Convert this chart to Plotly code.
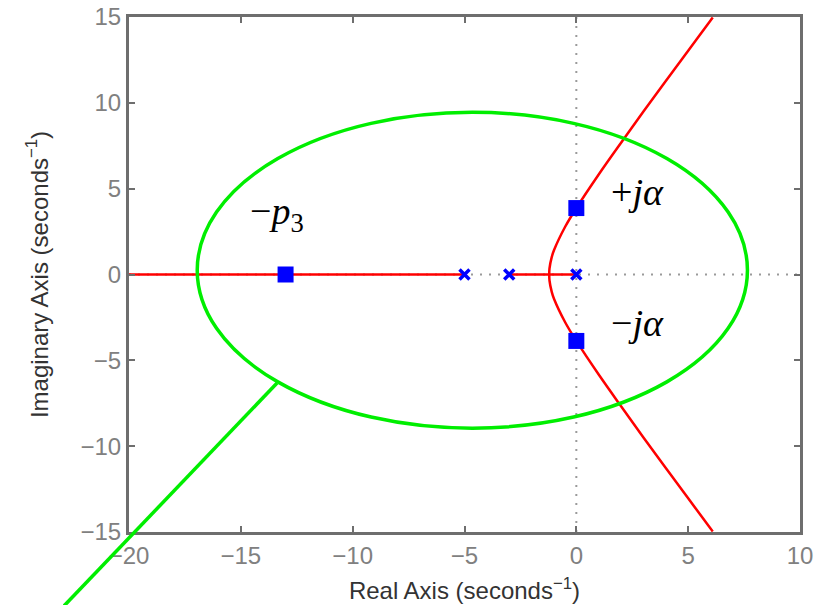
import plotly.graph_objects as go

# ---- data ----
x_range = [-20, 10]
y_range = [-15, 15]
x_ticks = [-20, -15, -10, -5, 0, 5, 10]
y_ticks = [-15, -10, -5, 0, 5, 10, 15]

poles_x = [0, -3, -5]
poles_y = [0, 0, 0]

# real-axis locus segments
real_left_x = [-20, -5]
real_left_y = [0, 0]
real_mid_x = [-3, 0]
real_mid_y = [0, 0]

# complex branch (upper); lower branch is the mirror image
branch_sigma = [-1.21, -1.2, -1.1, -1.0, -0.5, 0.0, 1.0, 2.0, 3.0, 4.0, 5.0, 6.0, 6.1]
branch_omega = [0.0, 0.35, 1.01, 1.41, 2.78, 3.87, 5.83, 7.68, 9.49, 11.27, 13.04, 14.80, 14.97]

# highlighted closed-loop poles
hl_x = [-13, 0, 0]
hl_y = [0, 3.87, -3.87]

labels_text = ["\u2212<i>p</i><sub>3</sub>", "+<i>j\u03b1</i>", "\u2212<i>j\u03b1</i>"]
labels_x = [-13.4, 2.75, 2.75]
labels_y = [3.5, 4.8, -2.8]

# green ellipse and pointer line
ell_cx, ell_cy, ell_a, ell_b = -4.65, 0.25, 12.3, 9.2
ptr_x = [-13.38, -22.9]
ptr_y = [-6.32, -19.3]

RED = "#ff0000"
BLUE = "#0000ff"
GREEN = "#00ee00"
GRAY = "#6e6e6e"

fig = go.Figure()

# dotted zero lines
dot_line = dict(color="#9a9a9a", width=2, dash="2px,7px")
fig.add_trace(go.Scatter(x=x_range, y=[0, 0], mode="lines", line=dot_line, hoverinfo="skip"))
fig.add_trace(go.Scatter(x=[0, 0], y=y_range, mode="lines", line=dot_line, hoverinfo="skip"))

# root locus
red_line = dict(color=RED, width=2.5)
fig.add_trace(go.Scatter(x=real_left_x, y=real_left_y, mode="lines", line=red_line))
fig.add_trace(go.Scatter(x=real_mid_x, y=real_mid_y, mode="lines", line=red_line))
fig.add_trace(go.Scatter(x=branch_sigma, y=branch_omega, mode="lines", line=red_line,
                         line_shape="spline"))
fig.add_trace(go.Scatter(x=branch_sigma, y=[-w for w in branch_omega], mode="lines",
                         line=red_line, line_shape="spline"))

# open-loop poles
fig.add_trace(go.Scatter(x=poles_x, y=poles_y, mode="markers",
                         marker=dict(symbol="x-thin", size=10, color=BLUE,
                                     line=dict(color=BLUE, width=3.5))))

# highlighted poles
fig.add_trace(go.Scatter(x=hl_x, y=hl_y, mode="markers",
                         marker=dict(symbol="square", size=16, color=BLUE)))

# ellipse
fig.add_shape(type="circle", xref="x", yref="y",
              x0=ell_cx - ell_a, x1=ell_cx + ell_a,
              y0=ell_cy - ell_b, y1=ell_cy + ell_b,
              line=dict(color=GREEN, width=3.5), layer="above")

# pointer line in paper coords (extends outside the plot)
def px(v):
    return (v - x_range[0]) / (x_range[1] - x_range[0])

def py(v):
    return (v - y_range[0]) / (y_range[1] - y_range[0])

fig.add_shape(type="line", xref="paper", yref="paper",
              x0=px(ptr_x[0]), y0=py(ptr_y[0]), x1=px(ptr_x[1]), y1=py(ptr_y[1]),
              line=dict(color=GREEN, width=3.5), layer="above")

for t, xx, yy in zip(labels_text, labels_x, labels_y):
    fig.add_annotation(x=xx, y=yy, text=t, showarrow=False,
                       font=dict(family="Liberation Serif", size=38, color="black"))

axis_common = dict(
    showgrid=False, zeroline=False, showline=True, mirror="ticks",
    linecolor=GRAY, linewidth=3, ticks="inside", ticklen=6, tickwidth=2,
    tickcolor=GRAY, tickfont=dict(family="Liberation Sans", size=24, color="#808080"),
    automargin=False,
)

fig.update_layout(
    width=821, height=605,
    margin=dict(l=129, r=21, t=17, b=73),
    paper_bgcolor="white", plot_bgcolor="white",
    showlegend=False,
    font=dict(family="Liberation Sans", size=24),
    xaxis=dict(range=x_range, tickvals=x_ticks, **axis_common,
               title=dict(text="Real Axis (seconds<sup>\u22121</sup>)", standoff=15,
                          font=dict(family="Liberation Sans", size=24, color="#333333"))),
    yaxis=dict(range=y_range, tickvals=y_ticks, **axis_common,
               title=dict(text="Imaginary Axis (seconds<sup>\u22121</sup>)", standoff=26,
                          font=dict(family="Liberation Sans", size=24, color="#333333"))),
)

fig.write_html("out.html")
